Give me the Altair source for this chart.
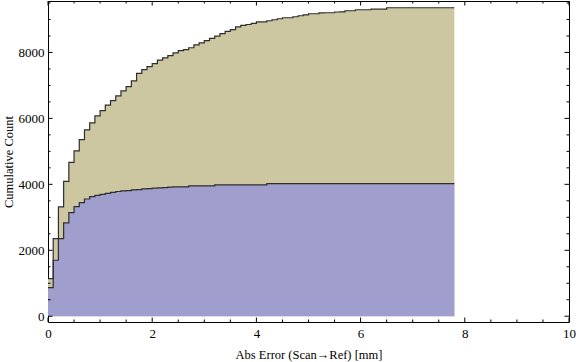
import altair as alt
import pandas as pd

# Bin edges (mm), bins of 0.1 mm from 0 to 7.8
bin_edges = [0.0, 0.1, 0.2, 0.3, 0.4, 0.5, 0.6, 0.7, 0.8, 0.9,
             1.0, 1.1, 1.2, 1.3, 1.4, 1.5, 1.6, 1.7, 1.8, 1.9,
             2.0, 2.1, 2.2, 2.3, 2.4, 2.5, 2.6, 2.7, 2.8, 2.9,
             3.0, 3.1, 3.2, 3.3, 3.4, 3.5, 3.6, 3.7, 3.8, 3.9,
             4.0, 4.1, 4.2, 4.3, 4.4, 4.5, 4.6, 4.7, 4.8, 4.9,
             5.0, 5.1, 5.2, 5.3, 5.4, 5.5, 5.6, 5.7, 5.8, 5.9,
             6.0, 6.1, 6.2, 6.3, 6.4, 6.5, 6.6, 6.7, 6.8, 6.9,
             7.0, 7.1, 7.2, 7.3, 7.4, 7.5, 7.6, 7.7, 7.8]

# Cumulative count of the lower (blue) data set, per bin
blue_cum = [870, 1697, 2355, 2833, 3142, 3327, 3445, 3555, 3627, 3667,
            3697, 3727, 3758, 3782, 3803, 3809, 3833, 3839, 3864, 3870,
            3885, 3894, 3900, 3915, 3924, 3924, 3924, 3955, 3955, 3955,
            3955, 3955, 3985, 3985, 3985, 3985, 3985, 3985, 3985, 3985,
            3985, 3985, 4021, 4021, 4021, 4021, 4021, 4021, 4021, 4021,
            4021, 4021, 4021, 4021, 4021, 4021, 4021, 4021, 4021, 4021,
            4021, 4021, 4021, 4021, 4021, 4021, 4021, 4021, 4021, 4021,
            4021, 4021, 4021, 4021, 4021, 4021, 4021, 4021]

# Cumulative count of both data sets stacked (top of the tan layer), per bin
total_cum = [1142, 2355, 3318, 4091, 4667, 5015, 5355, 5652, 5864, 6076,
             6236, 6403, 6536, 6682, 6833, 6964, 7136, 7364, 7476, 7567,
             7661, 7767, 7833, 7903, 7985, 8055, 8085, 8142, 8227, 8288,
             8358, 8424, 8494, 8570, 8636, 8691, 8773, 8818, 8848, 8879,
             8927, 8927, 8961, 8991, 9021, 9052, 9052, 9082, 9112, 9142,
             9173, 9173, 9197, 9203, 9203, 9227, 9233, 9264, 9264, 9294,
             9294, 9294, 9312, 9312, 9312, 9355, 9355, 9355, 9355, 9355,
             9355, 9355, 9355, 9355, 9355, 9355, 9355, 9355]

x_major = [0, 2, 4, 6, 8, 10]
x_minor = [0.5, 1, 1.5, 2.5, 3, 3.5, 4.5, 5, 5.5, 6.5, 7, 7.5, 8.5, 9, 9.5]
y_major = [0, 2000, 4000, 6000, 8000]
y_minor = [500, 1000, 1500, 2500, 3000, 3500, 4500, 5000, 5500,
           6500, 7000, 7500, 8500, 9000, 9500]

W, H = 521, 321
TAN = "#CCC7A1"
BLUE = "#A09ECD"
EDGE = "#2E2E2E"
FONT = "Liberation Serif"

steps = pd.DataFrame({
    "x": bin_edges,
    "blue": blue_cum + [blue_cum[-1]],
    "total": total_cum + [total_cum[-1]],
})

xs = alt.Scale(domain=[0, 10], nice=False, zero=False)
ys = alt.Scale(domain=[-175, 9560], nice=False, zero=False)
ax_x = alt.Axis(values=x_major, title="Abs Error (Scan→Ref) [mm]", format="d",
                labelFlush=False, labelPadding=5, titlePadding=8)
ax_y = alt.Axis(values=y_major, title="Cumulative Count", format="d",
                labelFlush=False, labelPadding=4, titlePadding=3)


def X(field):
    return alt.X(field, scale=xs, axis=ax_x)


def Y(field):
    return alt.Y(field, scale=ys, axis=ax_y)


base = alt.Chart(steps)

tan_area = base.mark_area(interpolate="step-after", color=TAN, opacity=1).encode(
    x=X("x:Q"), y=Y("total:Q"), y2=alt.datum(0),
)
blue_area = base.mark_area(interpolate="step-after", color=BLUE, opacity=1).encode(
    x=X("x:Q"), y=Y("blue:Q"), y2=alt.datum(0),
)
tan_line = base.mark_line(interpolate="step-after", color=EDGE, strokeWidth=1.2).encode(
    x=X("x:Q"), y=Y("total:Q"),
)
blue_line = base.mark_line(interpolate="step-after", color=EDGE, strokeWidth=1.2).encode(
    x=X("x:Q"), y=Y("blue:Q"),
)


def xticks(values, length):
    c = alt.Chart(pd.DataFrame({"v": values})).mark_rule(color="black", strokeWidth=1)
    bottom = c.encode(x=X("v:Q"), y=alt.value(H), y2=alt.value(H - length))
    top = c.encode(x=X("v:Q"), y=alt.value(0), y2=alt.value(length))
    return [bottom, top]


def yticks(values, length):
    c = alt.Chart(pd.DataFrame({"v": values})).mark_rule(color="black", strokeWidth=1)
    left = c.encode(y=Y("v:Q"), x=alt.value(0), x2=alt.value(length))
    right = c.encode(y=Y("v:Q"), x=alt.value(W), x2=alt.value(W - length))
    return [left, right]


layers = [tan_area, blue_area, tan_line, blue_line]
layers += xticks(x_major, 4.5) + xticks(x_minor, 2.5)
layers += yticks(y_major, 4.5) + yticks(y_minor, 2.5)

chart = alt.layer(*layers).properties(
    width=W, height=H,
    autosize=alt.AutoSizeParams(type="none"),
    padding={"left": 48, "top": 1, "right": 7, "bottom": 40},
).configure_view(
    stroke="black", strokeWidth=1,
).configure_axis(
    ticks=False, domain=False, grid=False,
    labelFont=FONT, labelFontSize=13, labelColor="black",
    titleFont=FONT, titleFontSize=12.5, titleFontWeight="normal", titleColor="black",
)

chart.save("out.html", embed_options={"renderer": "svg", "actions": False})
